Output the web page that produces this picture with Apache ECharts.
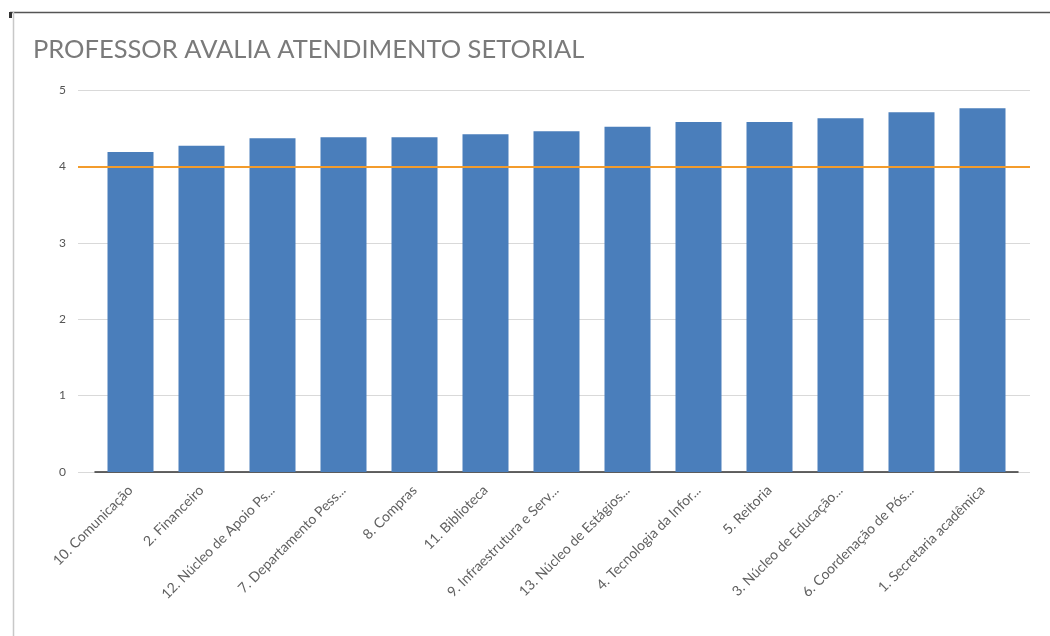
<!DOCTYPE html>
<html>
<head>
<meta charset="utf-8">
<script src="https://cdn.jsdelivr.net/npm/echarts@6/dist/echarts.min.js"></script>
<style>
  html, body { margin: 0; padding: 0; background: #fff; }
  #chart { width: 1050px; height: 636px; }
</style>
</head>
<body>
<div id="chart"></div>
<script>
// setores, ordenados pela nota
var categories = ['10. Comunicação', '2. Financeiro', '12. Núcleo de Apoio Ps...',
    '7. Departamento Pess...', '8. Compras', '11. Biblioteca', '9. Infraestrutura e Serv...',
    '13. Núcleo de Estágios...', '4. Tecnologia da Infor...', '5. Reitoria',
    '3. Núcleo de Educação...', '6. Coordenação de Pós...', '1. Secretaria acadêmica'];
var notas = [4.19, 4.27, 4.37, 4.38, 4.38, 4.42, 4.46, 4.52, 4.58, 4.58, 4.63, 4.71, 4.76];
var meta = 4;
var yTicks = [0, 1, 2, 3, 4, 5];

var chart = echarts.init(document.getElementById('chart'));

var fontFamily = 'Lato, "Open Sans", sans-serif';

chart.setOption({
    animation: false,
    backgroundColor: '#fff',
    textStyle: { fontFamily: fontFamily },
    title: {
        text: 'PROFESSOR AVALIA ATENDIMENTO SETORIAL',
        left: 28,
        top: 32,
        textStyle: { fontSize: 25.5, fontWeight: 'normal', color: '#7a7a7a', fontFamily: fontFamily }
    },
    // grid 0: linhas de grade e meta; grid 1: barras
    grid: [
        { left: 78, right: 20, top: 90, height: 382 },
        { left: 95, right: 32, top: 90, height: 382 }
    ],
    xAxis: [
        { gridIndex: 0, type: 'value', min: 0, max: 1, show: false },
        {
            gridIndex: 1,
            type: 'category',
            data: categories,
            axisLine: { lineStyle: { color: '#333', width: 1.5 } },
            axisTick: { show: false },
            axisLabel: { rotate: 45, interval: 0, fontSize: 14, color: '#606060', margin: 16 }
        }
    ],
    yAxis: [
        {
            gridIndex: 0,
            type: 'value',
            min: yTicks[0],
            max: yTicks[yTicks.length - 1],
            interval: 1,
            axisLine: { show: false },
            axisTick: { show: false },
            axisLabel: { color: '#555', fontSize: 12, margin: 12 },
            splitLine: { lineStyle: { color: '#d9d9d9' } }
        },
        {
            gridIndex: 1,
            type: 'value',
            min: yTicks[0],
            max: yTicks[yTicks.length - 1],
            interval: 1,
            show: false,
            splitLine: { show: false }
        }
    ],
    series: [
        {
            type: 'line',
            xAxisIndex: 0,
            yAxisIndex: 0,
            data: [],
            markLine: {
                symbol: 'none',
                silent: true,
                label: { show: false },
                lineStyle: { color: '#f39c2c', width: 2, type: 'solid' },
                data: [{ yAxis: meta }]
            }
        },
        {
            type: 'bar',
            xAxisIndex: 1,
            yAxisIndex: 1,
            data: notas,
            barWidth: 46,
            itemStyle: { color: '#4a7ebb' },
            z: 1
        }
    ],
    graphic: [
        { type: 'line', shape: { x1: 10, y1: 12.5, x2: 1050, y2: 12.5 }, style: { stroke: '#555', lineWidth: 1.5 } },
        { type: 'line', shape: { x1: 13.5, y1: 12, x2: 13.5, y2: 636 }, style: { stroke: '#c8c8c8', lineWidth: 1.5 } },
        { type: 'rect', shape: { x: 9, y: 12, width: 3, height: 6 }, style: { fill: '#333' } }
    ]
});
</script>
</body>
</html>
